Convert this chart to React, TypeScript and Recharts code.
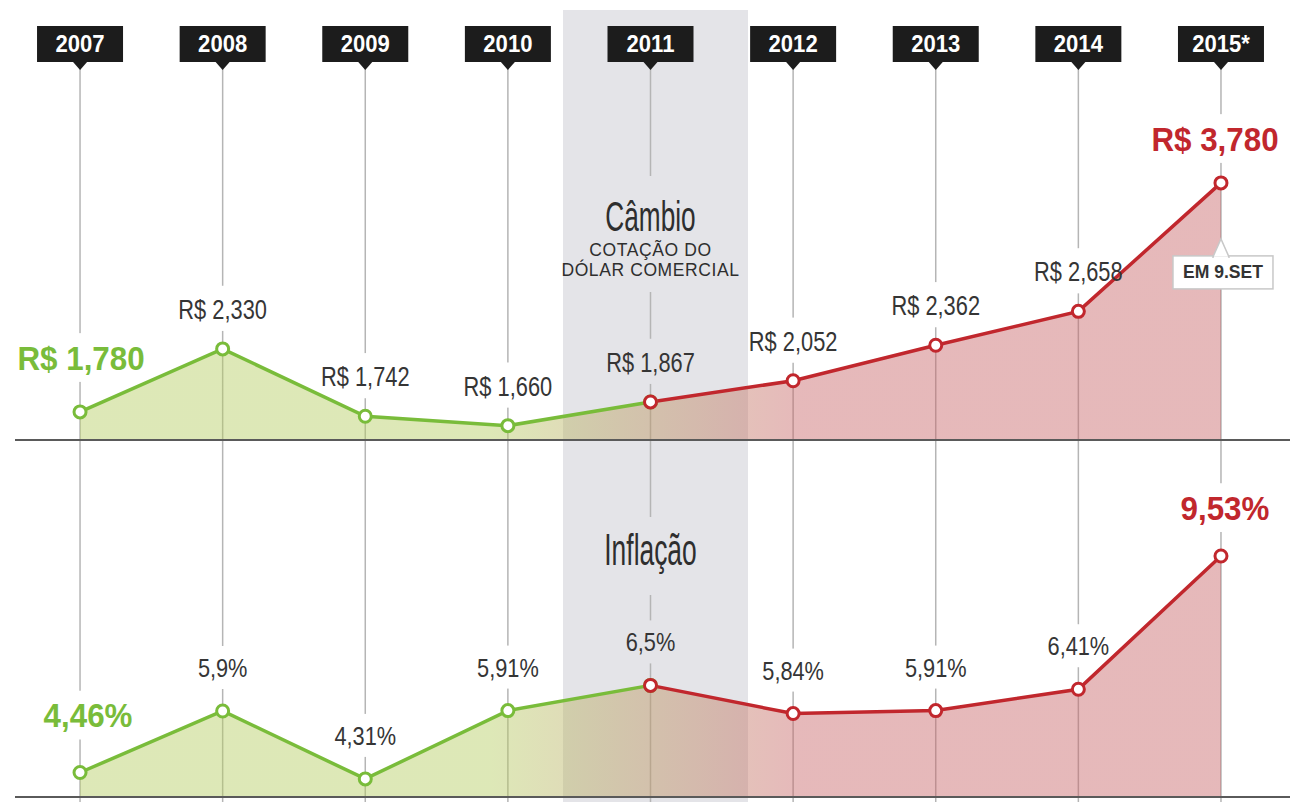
import React from 'react'
import {
  ComposedChart,
  Area,
  Line,
  XAxis,
  YAxis,
  CartesianGrid,
  ReferenceLine,
  LabelList,
} from 'recharts'

const years = ['2007', '2008', '2009', '2010', '2011', '2012', '2013', '2014', '2015*']
// cotação do dólar comercial, R$
const dolar = [1.78, 2.33, 1.742, 1.66, 1.867, 2.052, 2.362, 2.658, 3.78]
// inflação anual, %
const inflacao = [4.46, 5.9, 4.31, 5.91, 6.5, 5.84, 5.91, 6.41, 9.53]
// a partir de 2011 a linha passa a vermelho
const virada = 4

const GREEN = '#79bc3a'
const RED = '#c1272d'
const TEXT = '#353535'
const BAND = '#e4e4e8'
const SANS = '"Liberation Sans", Arial, sans-serif'

const W = 1292
const H = 802
const MARGIN = { top: 10, right: 2, bottom: 0, left: 15 }
const X_DOMAIN: [number, number] = [-0.456, 8.484]
// faixa cinza em torno de 2011 (em unidades do eixo x)
const BAND_X: [number, number] = [3.387, 4.684]
// cada painel tem a sua escala; a base fica na linha de cada painel
const FX_BASE = 1.535
const FX_DOMAIN: [number, number] = [-1.627, 5.29]
const INF_BASE = 3.886
const INF_DOMAIN: [number, number] = [3.769, 22.317]
const HEADER_Y = 26
const GRID_TOP = 68

const data = years.map((ano, i) => ({
  i,
  ano,
  dolar: dolar[i],
  dolarVerde: i <= virada ? dolar[i] : null,
  dolarVermelho: i >= virada ? dolar[i] : null,
  inflacao: inflacao[i],
  inflVerde: i <= virada ? inflacao[i] : null,
  inflVermelho: i >= virada ? inflacao[i] : null,
}))

// posição horizontal em px para a grade e a faixa
const plotW = W - MARGIN.left - MARGIN.right
const px = (v: number) => MARGIN.left + ((v - X_DOMAIN[0]) / (X_DOMAIN[1] - X_DOMAIN[0])) * plotW

const fmtFx = (v: number) => 'R$ ' + v.toFixed(3).replace('.', ',')
const fmtPct = (v: number) => String(v).replace('.', ',') + '%'

// texto condensado (escala horizontal)
function Cond({ x, y, size, sx = 0.8, weight = 400, fill = TEXT, spacing = 0, children }: any) {
  return (
    <text
      transform={`translate(${x} ${y}) scale(${sx} 1)`}
      textAnchor="middle"
      fontFamily={SANS}
      fontSize={size}
      fontWeight={weight}
      fill={fill}
      letterSpacing={spacing}
    >
      {children}
    </text>
  )
}

// corta a linha vertical atrás do texto
function Gap({ x, y1, y2, bg }: any) {
  return <rect x={x - 4} y={y1} width={8} height={y2 - y1} fill={bg} />
}

function YearBox({ x, label }: any) {
  const top = HEADER_Y
  return (
    <g>
      <rect x={x - 43} y={top} width={86} height={36} fill="#1c1c1c" />
      <polygon points={`${x - 7},${top + 36} ${x + 7},${top + 36} ${x},${top + 44}`} fill="#1c1c1c" />
      <Cond x={x} y={top + 26} size={23} sx={0.96} weight={700} fill="#fff">
        {label}
      </Cond>
    </g>
  )
}

const valueLabel = (kind: 'fx' | 'inf') => (props: any) => {
  const { x, y, index } = props
  const last = index === years.length - 1
  const first = index === 0
  const bg = index === virada ? BAND : '#fff'
  const text = kind === 'fx' ? fmtFx(dolar[index]) : fmtPct(inflacao[index])

  let size = kind === 'fx' ? 28 : 25
  let sx = kind === 'fx' ? 0.78 : 0.87
  let weight = 400
  let fill = TEXT
  let dx = 0
  let dy = kind === 'fx' ? -30 : -34
  if (first || last) {
    size = 33
    sx = 0.95
    weight = 700
    fill = first ? GREEN : RED
    if (kind === 'fx') {
      dx = first ? 1 : -6
      dy = first ? -42 : -32
    } else {
      dx = first ? 8 : 4
      dy = first ? -45 : -36
    }
  }
  const base = y + dy
  const cap = size * 0.72

  return (
    <g>
      {kind === 'fx' && <YearBox x={x} label={years[index]} />}
      <Gap x={x} y1={base - cap - 13} y2={base + 12} bg={bg} />
      <Cond x={x + dx} y={base} size={size} sx={sx} weight={weight} fill={fill}>
        {text}
      </Cond>
      {kind === 'fx' && index === virada && (
        <g>
          <Gap x={x} y1={176} y2={292} bg={BAND} />
          <Cond x={x} y={231} size={43} sx={0.61} fill="#2e2e2e">Câmbio</Cond>
          <Cond x={x} y={256} size={17.5} sx={1} spacing={0.6} fill="#2e2e2e">COTAÇÃO DO</Cond>
          <Cond x={x} y={276} size={17.5} sx={1} spacing={0.6} fill="#2e2e2e">DÓLAR COMERCIAL</Cond>
        </g>
      )}
      {kind === 'inf' && index === virada && (
        <g>
          <Gap x={x} y1={517} y2={595} bg={BAND} />
          <Cond x={x} y={565} size={44} sx={0.6} fill="#2e2e2e">Inflação</Cond>
        </g>
      )}
      {kind === 'fx' && last && (
        <g>
          <rect x={x - 48} y={y + 73} width={100} height={33} fill="#fff" stroke="#c8c8c8" strokeWidth={1.5} />
          <polygon points={`${x - 8},${y + 74} ${x},${y + 56} ${x + 8},${y + 74}`} fill="#fff" stroke="#c8c8c8" strokeWidth={1.5} />
          <rect x={x - 7} y={y + 73.5} width={14} height={3} fill="#fff" />
          <Cond x={x + 2} y={y + 95} size={18.5} sx={0.95} weight={700} fill="#333">
            EM 9.SET
          </Cond>
        </g>
      )}
    </g>
  )
}

const dot = (c: string) => ({ r: 6, fill: '#fff', stroke: c, strokeWidth: 3 })

export default function App() {
  return (
    <div style={{ position: 'absolute', left: 0, top: 0, width: W, height: H, background: '#fff' }}>
      <ComposedChart width={W} height={H} data={data} margin={MARGIN}>
        <defs>
          <linearGradient id="fillVirada" x1="0" y1="0" x2="1" y2="0">
            <stop offset="0.36" stopColor="#b4cc5f" stopOpacity={0.45} />
            <stop offset="0.63" stopColor="#c76366" stopOpacity={0.45} />
          </linearGradient>
        </defs>
        <XAxis dataKey="i" type="number" hide domain={X_DOMAIN} allowDataOverflow ticks={years.map((_, i) => i)} />
        <YAxis yAxisId="fx" hide domain={FX_DOMAIN} allowDataOverflow />
        <YAxis yAxisId="inf" hide domain={INF_DOMAIN} allowDataOverflow />

        {/* faixa cinza de 2011 */}
        <CartesianGrid
          yAxisId="fx"
          horizontal={false}
          stroke="none"
          verticalPoints={BAND_X.map(px)}
          verticalFill={['none', BAND, 'none']}
          fillOpacity={1}
        />
        <CartesianGrid
          yAxisId="fx"
          horizontal={false}
          stroke="#b5b5b5"
          strokeWidth={1.5}
          verticalPoints={years.map((_, i) => px(i))}
          y={GRID_TOP}
          height={H - GRID_TOP}
        />

        <Area yAxisId="fx" dataKey="dolar" baseValue={FX_BASE} fill="url(#fillVirada)" fillOpacity={1}
          stroke="none" isAnimationActive={false}>
          <LabelList dataKey="dolar" content={valueLabel('fx')} />
        </Area>
        <Area yAxisId="inf" dataKey="inflacao" baseValue={INF_BASE} fill="url(#fillVirada)" fillOpacity={1}
          stroke="none" isAnimationActive={false}>
          <LabelList dataKey="inflacao" content={valueLabel('inf')} />
        </Area>

        <ReferenceLine yAxisId="fx" y={FX_BASE} stroke="#5a5a5a" strokeWidth={2} />
        <ReferenceLine yAxisId="inf" y={INF_BASE} stroke="#5a5a5a" strokeWidth={2} />

        <Line yAxisId="fx" dataKey="dolarVerde" stroke={GREEN} strokeWidth={3.5} dot={dot(GREEN)} isAnimationActive={false} />
        <Line yAxisId="fx" dataKey="dolarVermelho" stroke={RED} strokeWidth={3.5} dot={dot(RED)} isAnimationActive={false} />
        <Line yAxisId="inf" dataKey="inflVerde" stroke={GREEN} strokeWidth={3.5} dot={dot(GREEN)} isAnimationActive={false} />
        <Line yAxisId="inf" dataKey="inflVermelho" stroke={RED} strokeWidth={3.5} dot={dot(RED)} isAnimationActive={false} />
      </ComposedChart>
    </div>
  )
}
